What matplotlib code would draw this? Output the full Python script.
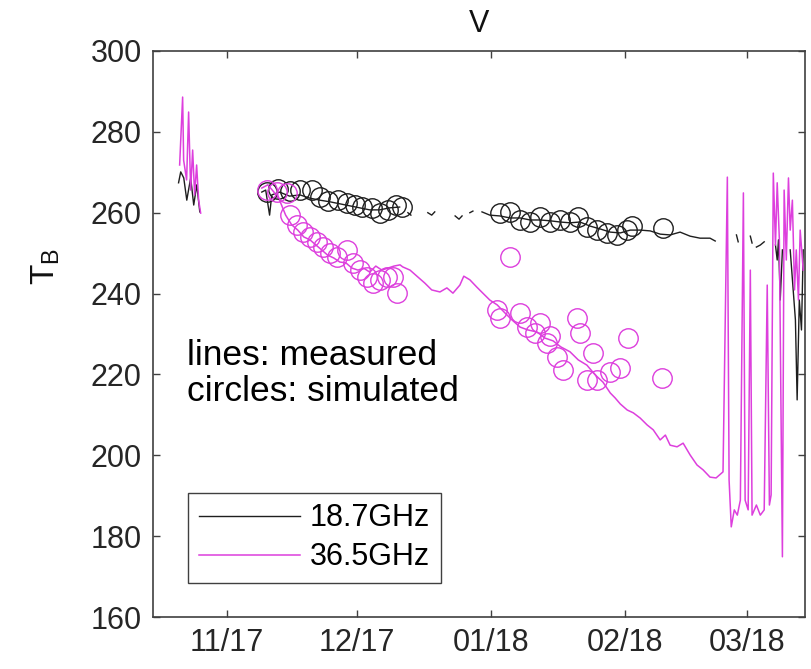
import numpy as np
import datetime
import matplotlib
matplotlib.use("Agg")
import matplotlib.pyplot as plt
import matplotlib.dates as mdates

plt.rcParams['font.family'] = ['Liberation Sans', 'DejaVu Sans']

# days since 1 Nov 2017, brightness temperature (K); nan = gap in record
days_187 = [-11.1, -10.6, -9.9, -9.2, -8.8, -8.3, -7.6, -6.9, -6.2, np.nan,
            8.1, 9.0, 9.9, 10.4, 12.2, 14.5, 16.9, 19.2, 21.5, 23.8, 26.1, 28.4,
            30.7, 33.0, 35.3, 37.6, 39.9, np.nan,
            41.8, 42.5, np.nan, 46.4, 47.3, 48.0, np.nan, 52.7, 53.6, 54.3, np.nan,
            56.1, 56.8, np.nan,
            58.9, 60.7, 63.0, 65.4, 67.7, 70.0, 72.3, 74.6, 76.9, 79.2, 81.5, 83.8,
            86.1, 88.5, 90.8, 93.1, 95.4, 97.7, 100.0, 102.3, 104.6, 106.9, 109.2,
            111.5, 112.7, np.nan,
            117.6, 118.0, np.nan, 120.8, 121.2, np.nan, 122.2, 123.1, 124.0, np.nan,
            126.6, 127.0, 127.3, 127.7, 128.2, np.nan,
            130.0, 131.2, 131.6, 132.1, 132.6, 133.0]
tb_187 = [267.4, 270.1, 268.6, 263.1, 265.6, 268.6, 261.9, 266.9, 260.2, np.nan,
          265.1, 265.6, 259.4, 264.4, 265.1, 264.1, 264.4, 263.6, 263.1, 262.7,
          262.2, 261.7, 261.2, 260.7, 260.7, 261.2, 261.4, np.nan,
          260.0, 259.4, np.nan, 260.0, 259.4, 260.2, np.nan, 259.2, 258.4, 259.2, np.nan,
          260.0, 260.4, np.nan,
          260.2, 259.4, 259.2, 258.7, 258.7, 258.2, 258.2, 258.0, 257.7, 257.5,
          257.7, 256.7, 256.0, 255.2, 255.0, 255.7, 255.7, 255.5, 254.7, 254.5,
          255.2, 254.2, 253.7, 253.7, 253.0, np.nan,
          254.5, 252.8, np.nan, 254.2, 252.5, np.nan, 251.5, 252.0, 252.8, np.nan,
          252.0, 248.3, 253.3, 238.4, 250.8, np.nan,
          250.8, 233.5, 213.7, 238.4, 231.0, 250.8]

days_365 = [-10.85, -10.16, -9.93, -9.24, -8.78, -8.31, -7.85, -7.39, -6.93, -6.47,
            -6.0, np.nan,
            8.1, 9.5, 10.9, 12.2, 13.6, 15.0, 16.4, 17.8, 19.2, 20.6, 21.9, 23.3,
            24.7, 26.1, 27.5, 28.9, 30.3, 31.6, 33.0, 34.4, 35.8, 37.2, 38.6, 40.0,
            40.6, 42.3, 44.1, 45.7, 47.3, 49.2, 50.8, 52.2, 53.8, 54.7, 56.1, 57.7,
            59.1, 60.7, 62.4, 64.2, 65.8, 67.7, 69.5, 71.6, 73.4, 75.3, 77.1, 79.2,
            81.1, 83.1, 85.0, 86.8, 88.5, 89.6, 90.8, 92.4, 93.8, 95.4, 97.0, 98.4,
            100.0, 101.2, 102.3, 103.9, 105.3, 106.9, 108.5, 109.9, 111.5, 112.9,
            114.5, 115.5, 115.9, 116.4, 117.1, 117.8, 118.5, 119.2, 119.6, 120.3,
            120.8, 121.2, 122.2, 123.1, 124.0, 124.7, 125.2, 125.6, 126.1, 126.6,
            127.0, 127.5, 128.2, 128.6, 129.1, 129.6, 130.0, 130.5, 131.0, 131.4,
            131.9, 132.3, 133.0]
tb_365 = [271.8, 288.6, 273.0, 268.1, 284.9, 265.6, 275.5, 264.4, 271.8, 263.1,
          259.9, np.nan,
          266.1, 266.9, 265.1, 263.1, 259.4, 257.0, 255.7, 254.0, 253.3, 252.0,
          250.8, 249.5, 248.8, 247.8, 247.6, 246.3, 245.8, 246.3, 245.3, 246.8,
          245.8, 246.3, 246.8, 247.1,
          246.6, 245.8, 244.1, 242.6, 240.9, 240.4, 241.4, 240.1, 242.1, 244.3,
          243.4, 241.6, 240.1, 238.4, 237.2, 235.2, 233.5, 231.7, 231.0, 230.5,
          229.0, 228.3, 226.8, 225.6, 223.6, 222.3, 219.9, 218.1, 215.4, 214.2,
          212.7, 211.2, 210.5, 209.2, 207.5, 206.3, 203.8, 205.0, 202.5, 202.1,
          203.0, 200.1, 197.6, 196.4, 194.6, 194.4, 195.9,
          268.8, 193.9, 182.3, 186.5, 185.2, 188.9, 264.9, 188.9, 186.5, 245.8,
          185.2, 187.7, 185.2, 186.5, 242.1, 187.7, 190.2, 269.8, 252.0, 267.4,
          253.3, 174.9, 265.6, 248.3, 268.6, 255.7, 263.1, 240.9, 250.8, 238.4,
          255.7, 245.8]

# simulated values (circles)
sim_days_187 = [9.2, 11.8, 14.5, 16.9, 19.6, 21.5, 23.3, 25.6, 27.7, 29.6, 31.2,
                33.5, 35.3, 37.2, 39.0, 40.4,
                63.0, 65.4, 67.7, 70.0, 72.3, 74.6, 76.9, 79.2, 81.1, 83.1, 85.5,
                87.8, 90.1, 92.4, 93.5, 100.7]
sim_tb_187 = [265.1, 265.9, 265.4, 265.6, 265.6, 263.9, 262.9, 263.1, 262.4, 261.9,
              261.4, 261.2, 259.9, 260.7, 261.9, 261.4,
              259.9, 260.2, 258.2, 257.7, 258.9, 257.7, 258.2, 257.7, 258.9, 256.5,
              255.7, 255.0, 254.5, 255.7, 256.7, 256.2]

sim_days_365 = [9.2, 11.5, 13.9, 14.5, 16.2, 17.6, 19.2, 20.8, 22.2, 23.8, 25.4,
                27.7, 29.1, 30.7, 32.3, 33.7, 35.3, 37.0, 38.3, 39.3,
                62.4, 63.0, 65.4, 67.7, 69.3, 71.1, 72.3, 73.9, 74.6, 76.2, 77.6,
                80.8, 81.5, 83.1, 84.5, 85.5, 88.5, 90.8, 92.6, 100.5]
sim_tb_365 = [265.6, 265.1, 264.9, 259.4, 257.0, 255.2, 254.0, 252.8, 251.5, 250.0,
              249.0, 250.8, 247.6, 245.8, 244.1, 242.6, 243.4, 244.1, 244.1, 240.1,
              235.9, 234.0, 249.0, 235.2, 231.7, 230.3, 232.7, 227.8, 229.5, 224.3,
              221.1, 234.0, 230.2, 218.6, 225.3, 218.6, 220.6, 221.6, 229.0, 219.1]

base = mdates.date2num(datetime.datetime(2017, 11, 1))
dark = '#1e1e1e'
mag = '#dd3fdd'

fig = plt.figure(figsize=(8.12, 6.69), dpi=100)
ax = fig.add_axes([0.1884, 0.0777, 0.8030, 0.8461])

ax.plot(base + np.array(days_187), tb_187, color=dark, lw=1.0, label='18.7GHz')
ax.plot(base + np.array(days_365), tb_365, color=mag, lw=1.1, label='36.5GHz')
ax.plot(base + np.array(sim_days_187), sim_tb_187, ls='none', marker='o', ms=14,
        mfc='none', mec=dark, mew=1.0)
ax.plot(base + np.array(sim_days_365), sim_tb_365, ls='none', marker='o', ms=14,
        mfc='none', mec=mag, mew=1.0)

ax.set_xlim(mdates.date2num(datetime.datetime(2017, 10, 15)),
            mdates.date2num(datetime.datetime(2018, 3, 14, 10)))
ax.set_ylim(160, 300)
ax.set_yticks(range(160, 301, 20))
ax.xaxis.set_major_locator(mdates.MonthLocator())
ax.xaxis.set_major_formatter(mdates.DateFormatter('%m/%y'))
ax.tick_params(direction='in', length=5, width=1, top=True, right=True,
               labelsize=22, labelcolor='#262626', color='#404040', pad=8)
for s in ax.spines.values():
    s.set_color('#404040')
    s.set_linewidth(1.2)

ax.set_title('V', fontsize=22, pad=14, color='#111111')
ax.set_ylabel('T$_\\mathregular{B}$', fontsize=24, color='#111111')
ax.yaxis.set_label_coords(-0.14, 0.62)

ax.text(0.052, 0.492, 'lines: measured\ncircles: simulated', transform=ax.transAxes,
        fontsize=25.5, va='top', ha='left', linespacing=1.15, color='black')

leg = ax.legend(loc='lower left', bbox_to_anchor=(0.054, 0.06), borderaxespad=0,
                fontsize=22, handlelength=3.3, handletextpad=0.33, labelspacing=0.3,
                fancybox=False, framealpha=1, edgecolor='#404040',
                borderpad=0.35)
leg.get_frame().set_linewidth(1.0)

fig.savefig('out.png', dpi=100)
